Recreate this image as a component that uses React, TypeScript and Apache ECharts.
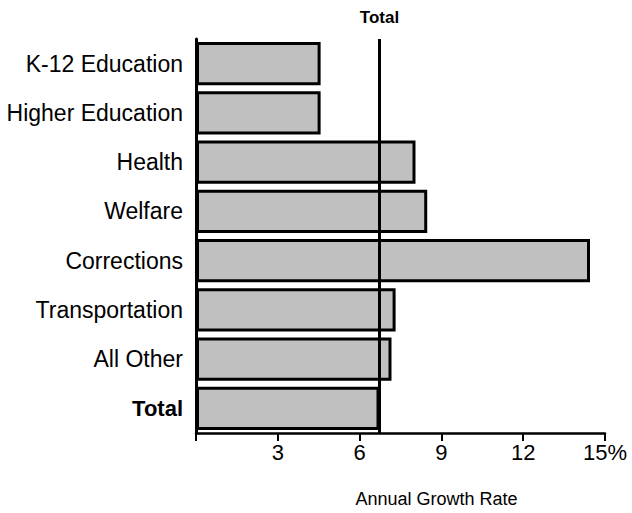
import React, { useEffect, useRef } from "react";
import * as echarts from "echarts";

const categories = [
  "K-12 Education",
  "Higher Education",
  "Health",
  "Welfare",
  "Corrections",
  "Transportation",
  "All Other",
  "Total",
];
const growthRates = [4.57, 4.57, 8.05, 8.48, 14.45, 7.32, 7.17, 6.73];
const totalRate = 6.73;
const xTicks = [0, 3, 6, 9, 12, 15];

const FONT = "'Liberation Sans', Arial, Helvetica, sans-serif";

export default function App() {
  const ref = useRef<HTMLDivElement>(null);
  useEffect(() => {
    if (!ref.current) return;
    const chart = echarts.init(ref.current, undefined, { renderer: "svg" });
    chart.setOption({
      animation: false,
      backgroundColor: "#ffffff",
      grid: { left: 196, right: 27, top: 39, bottom: 72, containLabel: false },
      xAxis: {
        type: "value",
        min: xTicks[0],
        max: xTicks[xTicks.length - 1],
        interval: 3,
        splitLine: { show: false },
        axisLine: { show: true, lineStyle: { color: "#000", width: 2.5 } },
        axisTick: { show: true, length: 8, lineStyle: { color: "#000", width: 2 } },
        axisLabel: {
          margin: 8,
          color: "#000",
          fontFamily: FONT,
          fontSize: 22,
          formatter: (v: number) => (v === 0 ? "" : v === 15 ? "15%" : String(v)),
        },
        name: "Annual Growth Rate",
        nameLocation: "middle",
        nameGap: 57,
        nameTextStyle: {
          color: "#000",
          fontFamily: FONT,
          fontSize: 18,
          padding: [0, 0, 0, 72],
        },
      },
      yAxis: {
        type: "category",
        inverse: true,
        data: categories,
        axisLine: { show: true, lineStyle: { color: "#000", width: 3 } },
        axisTick: { show: false },
        axisLabel: {
          margin: 13,
          color: "#000",
          fontFamily: FONT,
          fontSize: 23,
          formatter: (v: string) => (v === "Total" ? "{b|Total}" : v),
          rich: {
            b: { fontWeight: "bold", fontFamily: FONT, fontSize: 22, color: "#000" },
          },
        },
      },
      series: [
        {
          type: "bar",
          data: growthRates,
          barCategoryGap: "12%",
          itemStyle: { color: "#c0c0c0", borderColor: "#000", borderWidth: 3 },
          markLine: {
            silent: true,
            symbol: "none",
            data: [{ xAxis: totalRate }],
            lineStyle: { color: "#000", width: 3, type: "solid" },
            label: {
              show: true,
              position: "start",
              distance: 13,
              formatter: "Total",
              color: "#000",
              fontFamily: FONT,
              fontSize: 17,
              fontWeight: "bold",
            },
          },
        },
      ],
    });
    return () => chart.dispose();
  }, []);
  return <div ref={ref} style={{ width: 632, height: 513, position: "fixed", left: 0, top: 0 }} />;
}
